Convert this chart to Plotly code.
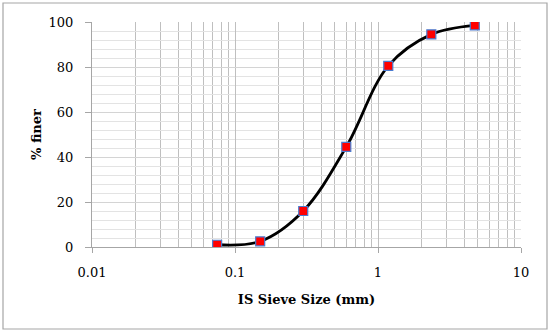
import plotly.graph_objects as go

sieve_mm = [0.075, 0.15, 0.3, 0.6, 1.18, 2.36, 4.75]
pct_finer = [1.0, 2.5, 16.0, 44.5, 80.5, 94.5, 98.5]

x_major = [0.01, 0.1, 1, 10]
x_labels = ["0.01", "0.1", "1", "10"]
x_minor = [m * d for d in (0.01, 0.1, 1) for m in range(2, 10)]

font_fam = "DejaVu Serif, Liberation Serif, serif"

fig = go.Figure()
fig.add_trace(go.Scatter(
    x=sieve_mm, y=pct_finer, mode="lines+markers",
    line=dict(color="black", width=2.8, shape="spline", smoothing=1.0),
    marker=dict(symbol="square", size=9, color="#ff0000",
                line=dict(color="#4a7bd0", width=1.2)),
    showlegend=False,
))

L, R, T, B = 92, 29, 22, 85
W, H = 550, 332
pw, ph = W - L - R, H - T - B

fig.update_layout(
    template="none",
    width=W, height=H,
    margin=dict(l=L, r=R, t=T, b=B),
    paper_bgcolor="white", plot_bgcolor="white",
    font=dict(family=font_fam, size=13, color="black"),
    xaxis=dict(
        type="log", range=[-2, 1], automargin=False,
        tickvals=x_major, ticktext=x_labels,
        ticks="outside", ticklen=5, tickcolor="#a6a6a6",
        ticklabelstandoff=8,
        showgrid=True, gridcolor="#bfbfbf", gridwidth=1,
        showline=True, linecolor="#a6a6a6", linewidth=1,
        minor=dict(tickvals=x_minor, showgrid=True, gridcolor="#bfbfbf",
                   gridwidth=1, ticks=""),
        zeroline=False,
        title=dict(text="<b>IS Sieve Size (mm)</b>", font=dict(size=13), standoff=16),
        tickfont=dict(size=13),
    ),
    yaxis=dict(
        range=[0, 100], dtick=20, tick0=0, automargin=False,
        ticks="outside", ticklen=6, tickcolor="#a6a6a6",
        ticklabelstandoff=9,
        showgrid=True, gridcolor="#d4d4d4", gridwidth=1,
        showline=True, linecolor="#a6a6a6", linewidth=1,
        minor=dict(dtick=4, showgrid=True, gridcolor="#e3e3e3", gridwidth=1, ticks=""),
        zeroline=False,
        title=dict(text="<b>% finer</b>", font=dict(size=13), standoff=4),
        tickfont=dict(size=13),
    ),
    shapes=[dict(
        type="rect", xref="paper", yref="paper",
        x0=(3 - L) / pw, x1=(547 - L) / pw,
        y0=(H - B - 329) / ph, y1=(H - B - 3) / ph,
        line=dict(color="#a6a6a6", width=1.2), fillcolor="rgba(0,0,0,0)",
        layer="below",
    )],
)

fig.write_html("out.html", config={"displayModeBar": False},
               post_script="document.body.style.margin='0';")
